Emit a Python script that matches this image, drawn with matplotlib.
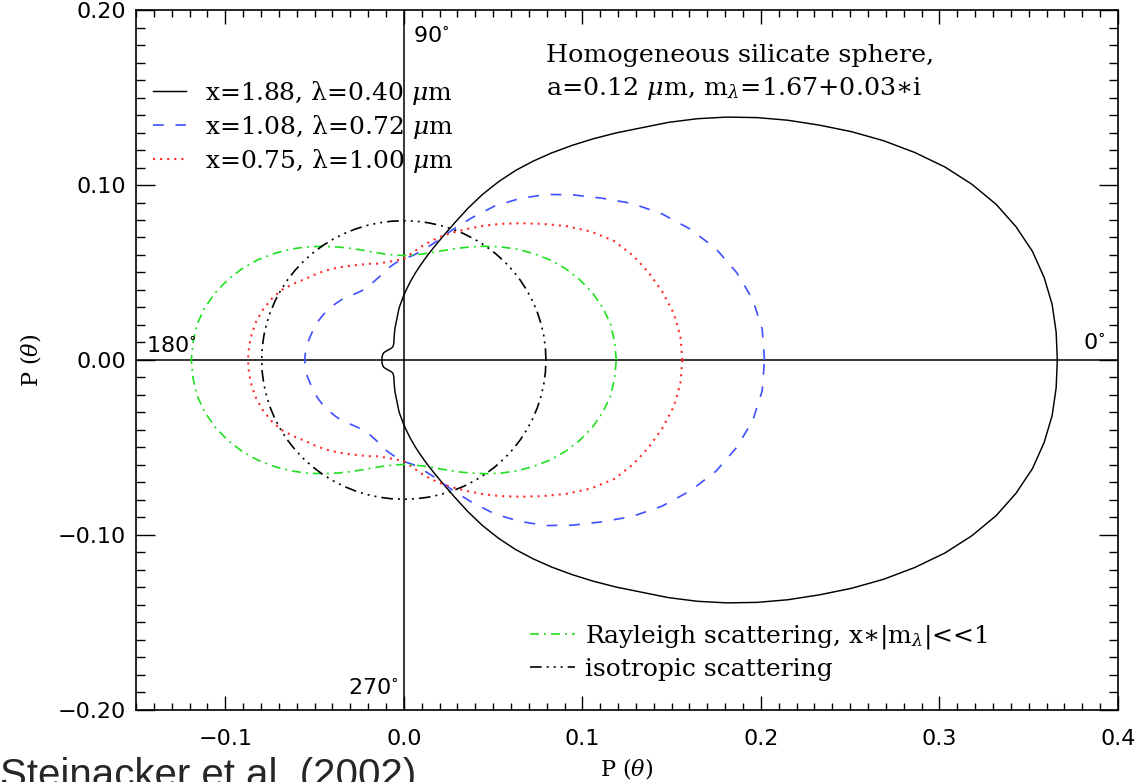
import numpy as np
import matplotlib
matplotlib.use('Agg')
import matplotlib.pyplot as plt
from matplotlib.ticker import MultipleLocator, FuncFormatter

plt.rcParams['font.family'] = ['DejaVu Serif']
plt.rcParams['mathtext.fontset'] = 'dejavuserif'

# scattering angle (deg), upper half; lower half is the mirror image
theta_deg = np.arange(0, 181, 5)
# finer steps for the big forward lobe of x=1.88
theta_fine = np.concatenate([np.arange(0, 90, 2.5), np.arange(90, 181, 5)])

# P(theta)
p_x188 = [0.366, 0.3657, 0.3645, 0.3617, 0.3575, 0.3513, 0.3435, 0.3337, 0.3225, 0.3098,
          0.2965, 0.2826, 0.2685, 0.255, 0.2415, 0.228, 0.2145, 0.201, 0.1875, 0.176,
          0.165, 0.1545, 0.1445, 0.1347, 0.125, 0.1148, 0.1045, 0.0938, 0.0835, 0.0748,
          0.0675, 0.0612, 0.0555, 0.0503, 0.0455, 0.041,
          0.037, 0.030, 0.0232, 0.019, 0.0155, 0.013, 0.0112, 0.0102, 0.0097, 0.0097,
          0.0099, 0.0103, 0.0108, 0.0114, 0.012, 0.0122, 0.0123, 0.0123, 0.0123]
p_x108 = [0.202, 0.2015, 0.1985, 0.193, 0.186, 0.177, 0.167, 0.156, 0.144, 0.1335,
          0.1235, 0.1125, 0.1015, 0.0895, 0.079, 0.070, 0.064, 0.060, 0.058, 0.0555,
          0.053, 0.050, 0.048, 0.0465, 0.046, 0.0465, 0.0475, 0.049, 0.050, 0.051,
          0.052, 0.0528, 0.0535, 0.054, 0.0548, 0.0553, 0.0555]
p_x075 = [0.156, 0.1555, 0.1535, 0.150, 0.146, 0.1415, 0.136, 0.128, 0.119, 0.110,
          0.102, 0.095, 0.0885, 0.0825, 0.0772, 0.0722, 0.067, 0.062, 0.0577, 0.057,
          0.0567, 0.057, 0.0585, 0.060, 0.062, 0.0645, 0.067, 0.0695, 0.072, 0.0758,
          0.0795, 0.082, 0.084, 0.0855, 0.0865, 0.087, 0.0873]
p_rayleigh = [0.119, 0.1185, 0.1176, 0.1154, 0.1124, 0.1087, 0.1045, 0.0998, 0.0947, 0.0896,
              0.0844, 0.0793, 0.0746, 0.0704, 0.0667, 0.0637, 0.0615, 0.0602, 0.0597, 0.0602,
              0.0615, 0.0637, 0.0667, 0.0704, 0.0746, 0.0793, 0.0844, 0.0896, 0.0947, 0.0998,
              0.1045, 0.1087, 0.1124, 0.1154, 0.1176, 0.1185, 0.119]
p_iso = 0.0796

labels = ['x=1.88, λ=0.40 $\\mu$m', 'x=1.08, λ=0.72 $\\mu$m', 'x=0.75, λ=1.00 $\\mu$m',
          'Rayleigh scattering, x$\\ast$|m$_\\lambda$|<<1', 'isotropic scattering']


def polar_xy(r, theta=theta_deg):
    r = np.asarray(r)
    th = np.deg2rad(np.concatenate([theta, 360 - theta[::-1][1:]]))
    rr = np.concatenate([r, r[::-1][1:]])
    return rr * np.cos(th), rr * np.sin(th)


def fmt(nd):
    def f(v, pos):
        if abs(v) < 1e-9:
            v = 0.0
        return ('%.*f' % (nd, v)).replace('-', '\u2212')
    return FuncFormatter(f)


fig = plt.figure(figsize=(11.37, 7.82), dpi=100)
ax = fig.add_axes([0.1196, 0.0921, 0.8637, 0.8951])

ax.axhline(0, color='black', lw=1.1)
ax.axvline(0, color='black', lw=1.1)

x, y = polar_xy(p_x188, theta_fine)
l1, = ax.plot(x, y, color='black', lw=1.05, label=labels[0])
x, y = polar_xy(p_x108)
l2, = ax.plot(x, y, color='#3f4fff', lw=1.2, dashes=(6.5, 7), label=labels[1])
x, y = polar_xy(p_x075)
l3, = ax.plot(x, y, color='#ff2b2b', lw=1.5, dashes=(1, 2.4), label=labels[2])
x, y = polar_xy(p_rayleigh)
l4, = ax.plot(x, y, color='#1fe01f', lw=1.2, dashes=(5.4, 3, 1.2, 3), label=labels[3])
x, y = polar_xy(np.full(len(theta_deg), p_iso))
l5, = ax.plot(x, y, color='black', lw=1.2, dashes=(7, 3, 1.2, 3, 1.2, 3, 1.2, 3), label=labels[4])

ax.set_xlim(-0.15, 0.4)
ax.set_ylim(-0.2, 0.2)
ax.xaxis.set_major_locator(MultipleLocator(0.1))
ax.xaxis.set_minor_locator(MultipleLocator(0.01))
ax.yaxis.set_major_locator(MultipleLocator(0.1))
ax.yaxis.set_minor_locator(MultipleLocator(0.01))
ax.xaxis.set_major_formatter(fmt(1))
ax.yaxis.set_major_formatter(fmt(2))
ax.tick_params(which='both', direction='in', top=True, right=True, width=1)
ax.tick_params(axis='x', which='major', length=10, pad=14)
ax.tick_params(axis='x', which='minor', length=5)
ax.tick_params(axis='y', which='major', length=14, pad=7)
ax.tick_params(axis='y', which='minor', length=6.5)
for lab in ax.get_xticklabels() + ax.get_yticklabels():
    lab.set_family('DejaVu Sans')
    lab.set_fontsize(16)
for s in ax.spines.values():
    s.set_linewidth(1.2)

ax.set_xlabel('P ($\\theta$)', fontsize=16, labelpad=5)
ax.set_ylabel('P ($\\theta$)', fontsize=16, labelpad=11)

# angle markers
ax.text(0.005, 0.185, '90$^{\\circ}$', family='DejaVu Sans', fontsize=16, va='center', ha='left')
ax.text(-0.116, 0.002, '180$^{\\circ}$', family='DejaVu Sans', fontsize=16, va='bottom', ha='right')
ax.text(0.393, 0.004, '0$^{\\circ}$', family='DejaVu Sans', fontsize=16, va='bottom', ha='right')
ax.text(-0.003, -0.193, '270$^{\\circ}$', family='DejaVu Sans', fontsize=16, va='bottom', ha='right')

ax.text(0.0795, 0.174, 'Homogeneous silicate sphere,', fontsize=18.3, va='center')
ax.text(0.0795, 0.155, 'a=0.12 $\\mu$m, m$_\\lambda$=1.67+0.03$\\ast$i', fontsize=18.3, va='center')

leg1 = ax.legend(handles=[l1, l2, l3], loc='upper left', bbox_to_anchor=(0.0173, 0.902),
                 frameon=False, fontsize=18, handlelength=1.32, handletextpad=0.76,
                 labelspacing=0.24, borderpad=0, borderaxespad=0)
ax.add_artist(leg1)
ax.legend(handles=[l4, l5], loc='upper left', bbox_to_anchor=(0.401, 0.124),
          frameon=False, fontsize=18, handlelength=1.8, handletextpad=0.4,
          labelspacing=0.26, borderpad=0, borderaxespad=0)

fig.text(0.0, -0.006, 'Steinacker et al. (2002)', family='Liberation Sans', fontsize=29,
         color='#262626', va='baseline', ha='left')

fig.savefig('out.png', dpi=100)
